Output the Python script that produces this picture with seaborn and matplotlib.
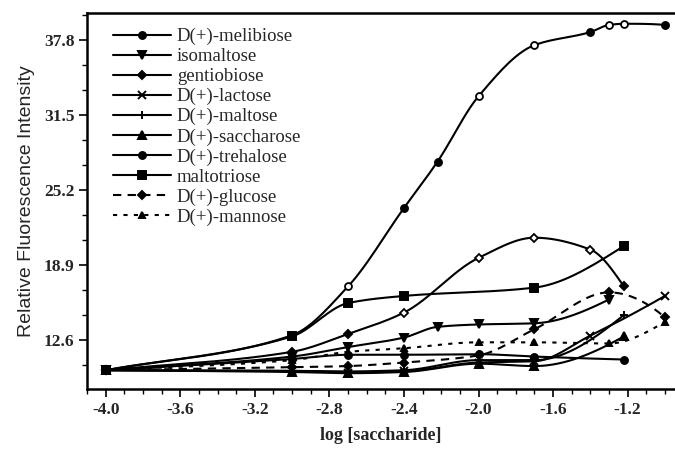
import numpy as np
import matplotlib
matplotlib.use("Agg")
import matplotlib.pyplot as plt
import seaborn as sns
from matplotlib.lines import Line2D
from matplotlib.ticker import MultipleLocator

# values: log concentration vs relative fluorescence
x_melibiose = [-4.0, -3.0, -2.7, -2.4, -2.22, -2.0, -1.7, -1.4, -1.3, -1.22, -1.0]
y_melibiose = [10.05, 13.0, 17.1, 23.7, 27.6, 33.1, 37.4, 38.5, 39.1, 39.2, 39.1]

x_isomaltose = [-4.0, -3.0, -2.7, -2.4, -2.22, -2.0, -1.7, -1.3]
y_isomaltose = [10.05, 11.2, 12.0, 12.8, 13.7, 13.9, 14.0, 16.0]

x_gentiobiose = [-4.0, -3.0, -2.7, -2.4, -2.0, -1.7, -1.4, -1.22]
y_gentiobiose = [10.05, 11.6, 13.1, 14.9, 19.5, 21.2, 20.2, 17.1]

x_lactose = [-4.0, -3.0, -2.7, -2.4, -2.0, -1.7, -1.4, -1.0]
y_lactose = [10.05, 10.0, 9.85, 9.95, 10.7, 10.8, 12.96, 16.3]

x_maltose = [-4.0, -3.0, -2.7, -2.4, -2.0, -1.7, -1.22]
y_maltose = [10.05, 10.0, 9.95, 10.05, 10.9, 10.9, 14.7]

x_saccharose = [-4.0, -3.0, -2.7, -2.4, -2.0, -1.7, -1.22]
y_saccharose = [10.05, 9.9, 9.8, 9.9, 10.6, 10.4, 12.9]

x_trehalose = [-4.0, -3.0, -2.7, -2.4, -2.0, -1.7, -1.22]
y_trehalose = [10.05, 11.0, 11.35, 11.35, 11.4, 11.2, 10.95]

x_maltotriose = [-4.0, -3.0, -2.7, -2.4, -1.7, -1.22]
y_maltotriose = [10.05, 12.9, 15.7, 16.3, 17.0, 20.5]

x_glucose = [-4.0, -3.0, -2.7, -2.4, -2.0, -1.7, -1.3, -1.0]
y_glucose = [10.05, 10.3, 10.4, 10.7, 11.3, 13.5, 16.6, 14.5]

x_mannose = [-4.0, -3.0, -2.7, -2.4, -2.0, -1.7, -1.3, -1.0]
y_mannose = [10.05, 10.9, 11.6, 11.9, 12.4, 12.4, 12.3, 14.1]

names = ["D(+)-melibiose", "isomaltose", "gentiobiose", "D(+)-lactose", "D(+)-maltose",
         "D(+)-saccharose", "D(+)-trehalose", "maltotriose", "D(+)-glucose", "D(+)-mannose"]
xticks = [-4.0, -3.6, -3.2, -2.8, -2.4, -2.0, -1.6, -1.2]
yticks = [12.6, 18.9, 25.2, 31.5, 37.8]


def smooth(x, y, n=300):
    """Monotone cubic curve through the points (only used to draw the line)."""
    x = np.asarray(x, float)
    y = np.asarray(y, float)
    h = np.diff(x)
    d = np.diff(y) / h
    m = np.zeros_like(y)
    for k in range(1, len(x) - 1):
        if d[k - 1] * d[k] > 0:
            w1 = 2 * h[k] + h[k - 1]
            w2 = h[k] + 2 * h[k - 1]
            m[k] = (w1 + w2) / (w1 / d[k - 1] + w2 / d[k])
    m[0] = d[0]
    v = ((2 * h[-1] + h[-2]) * d[-1] - h[-1] * d[-2]) / (h[-1] + h[-2])
    if np.sign(v) != np.sign(d[-1]):
        v = 0.0
    elif np.sign(d[-1]) != np.sign(d[-2]) and abs(v) > 3 * abs(d[-1]):
        v = 3 * d[-1]
    m[-1] = v
    xs = np.linspace(x[0], x[-1], n)
    i = np.clip(np.searchsorted(x, xs) - 1, 0, len(h) - 1)
    t = (xs - x[i]) / h[i]
    ys = ((2 * t**3 - 3 * t**2 + 1) * y[i] + (t**3 - 2 * t**2 + t) * h[i] * m[i]
          + (-2 * t**3 + 3 * t**2) * y[i + 1] + (t**3 - t**2) * h[i] * m[i + 1])
    return xs, ys


sns.set_style("ticks")
plt.rcParams["axes.unicode_minus"] = False
plt.rcParams["font.family"] = ["Liberation Serif", "DejaVu Serif"]

series = [
    (x_melibiose, y_melibiose, "o", 5, "-", [2, 5, 6, 8, 9]),
    (x_isomaltose, y_isomaltose, "v", 6, "-", []),
    (x_gentiobiose, y_gentiobiose, "D", 4.5, "-", [3, 4, 5, 6]),
    (x_lactose, y_lactose, "x", 6, "-", []),
    (x_maltose, y_maltose, "+", 6, "-", []),
    (x_saccharose, y_saccharose, "^", 5.5, "-", []),
    (x_trehalose, y_trehalose, "o", 5, "-", []),
    (x_maltotriose, y_maltotriose, "s", 5.5, "-", []),
    (x_glucose, y_glucose, "D", 4.5, (0, (4, 3)), []),
    (x_mannose, y_mannose, "^", 5, (0, (2, 3)), []),
]

fig = plt.figure(figsize=(6.75, 4.5), dpi=100)
ax = fig.add_axes([0.129, 0.135, 0.871, 0.836])

handles = []
for (xv, yv, mk, ms, ls, opened), name in zip(series, names):
    xs, ys = smooth(xv, yv)
    sns.lineplot(x=xs, y=ys, ax=ax, color="black", lw=1.5, linestyle=ls,
                 sort=False, estimator=None)
    filled = [k for k in range(len(xv)) if k not in opened]
    ax.plot([xv[k] for k in filled], [yv[k] for k in filled], linestyle="none",
            marker=mk, ms=ms, color="black", mew=1.4)
    if opened:
        ax.plot([xv[k] for k in opened], [yv[k] for k in opened], linestyle="none",
                marker=mk, ms=ms, mfc="white", mec="black", mew=1.3)
    handles.append(Line2D([], [], color="black", lw=1.5, linestyle=ls,
                          marker=mk, ms=ms, mew=1.4))

ax.set_xlim(-4.10, -0.946)
ax.set_ylim(8.45, 40.1)
ax.set_xticks(xticks)
ax.set_xticklabels([f"{v:.1f}" for v in xticks])
ax.set_yticks(yticks)
ax.set_yticklabels([f"{v:.1f}" for v in yticks])
ax.xaxis.set_minor_locator(MultipleLocator(0.1))
ax.yaxis.set_minor_locator(MultipleLocator(2.1))

for side in ["left", "bottom", "top"]:
    ax.spines[side].set_linewidth(1.8)
    ax.spines[side].set_color("black")
ax.spines["right"].set_visible(False)
ax.tick_params(which="major", length=6, width=1.2, direction="out", color="black", pad=3)
ax.tick_params(which="minor", length=3.5, width=1.0, direction="out", color="black")
for lab in ax.get_xticklabels() + ax.get_yticklabels():
    lab.set_fontweight("bold")
    lab.set_fontsize(12.5)

ax.set_xlabel("log [saccharide]", fontsize=13, fontweight="bold", labelpad=7)
ax.set_ylabel("Relative Fluorescence Intensity", fontsize=14,
              family=["Liberation Sans", "DejaVu Sans"], labelpad=6)

ax.legend(handles, names, loc="upper left", bbox_to_anchor=(0.025, 0.99),
          frameon=False, fontsize=13.5, handlelength=3.1, handletextpad=0.3,
          labelspacing=0.15, borderaxespad=0.2)

fig.savefig("out.png", dpi=100)
